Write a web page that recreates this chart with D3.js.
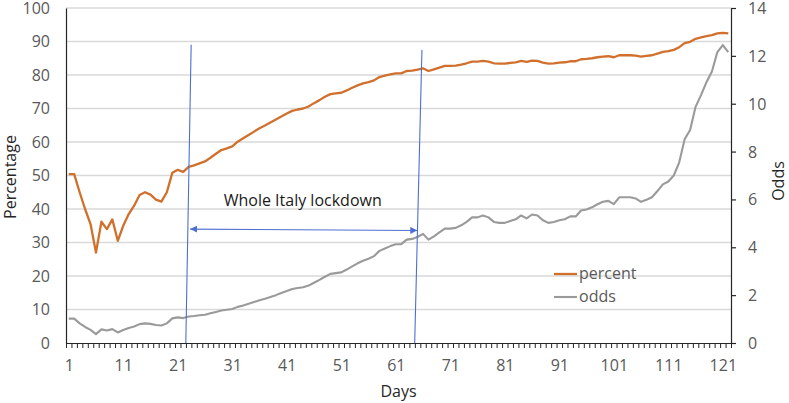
<!DOCTYPE html>
<html>
<head>
<meta charset="utf-8">
<script src="https://cdn.jsdelivr.net/npm/d3@7"></script>
<style>
  html, body { margin: 0; padding: 0; background: #fff; }
  svg { display: block; font-family: "Open Sans", "Noto Sans", sans-serif; }
</style>
</head>
<body>
<svg id="chart" width="789" height="403"></svg>
<script>
// ---------------- data ----------------
const days = d3.range(1, 123);
const percent = [
  50.4, 50.4, 45.0, 40.0, 35.5, 27.0, 36.2, 34.0, 36.9, 30.5,
  35.0, 38.5, 41.0, 44.2, 45.0, 44.3, 42.8, 42.2, 45.0, 50.8,
  51.7, 51.1, 52.6, 53.0, 53.6, 54.2, 55.3, 56.5, 57.6, 58.1,
  58.7, 60.1, 61.1, 62.1, 63.1, 64.1, 64.9, 65.8, 66.7, 67.6,
  68.5, 69.3, 69.7, 70.0, 70.6, 71.6, 72.5, 73.5, 74.3, 74.5,
  74.7, 75.4, 76.2, 76.9, 77.5, 77.9, 78.4, 79.4, 79.8, 80.2,
  80.5, 80.5, 81.2, 81.3, 81.6, 82.0, 81.2, 81.7, 82.2, 82.7,
  82.7, 82.8, 83.1, 83.5, 84.0, 84.0, 84.2, 84.0, 83.5, 83.4,
  83.4, 83.6, 83.8, 84.2, 83.9, 84.3, 84.2, 83.7, 83.4, 83.5,
  83.7, 83.8, 84.1, 84.1, 84.7, 84.8, 85.0, 85.3, 85.5, 85.6,
  85.3, 85.9, 85.9, 85.9, 85.8, 85.5, 85.7, 85.9, 86.4, 86.9,
  87.1, 87.5, 88.3, 89.5, 89.9, 90.8, 91.2, 91.6, 91.9, 92.4,
  92.6, 92.4
];
const odds = [
  1.02, 1.02, 0.82, 0.67, 0.55, 0.37, 0.57, 0.52, 0.58, 0.44,
  0.54, 0.63, 0.69, 0.79, 0.82, 0.80, 0.75, 0.73, 0.82, 1.03,
  1.07, 1.04, 1.11, 1.13, 1.16, 1.18, 1.24, 1.30, 1.36, 1.39,
  1.42, 1.51, 1.57, 1.64, 1.71, 1.79, 1.85, 1.92, 2.00, 2.09,
  2.17, 2.26, 2.30, 2.33, 2.40, 2.52, 2.64, 2.77, 2.89, 2.92,
  2.95, 3.07, 3.20, 3.33, 3.44, 3.52, 3.63, 3.85, 3.95, 4.05,
  4.13, 4.13, 4.32, 4.35, 4.43, 4.56, 4.32, 4.46, 4.62, 4.78,
  4.78, 4.81, 4.92, 5.06, 5.25, 5.25, 5.33, 5.25, 5.06, 5.02,
  5.02, 5.10, 5.17, 5.33, 5.21, 5.37, 5.33, 5.13, 5.02, 5.06,
  5.13, 5.17, 5.29, 5.29, 5.54, 5.58, 5.67, 5.80, 5.90, 5.94,
  5.80, 6.09, 6.09, 6.09, 6.04, 5.90, 5.99, 6.09, 6.35, 6.63,
  6.75, 7.00, 7.55, 8.52, 8.90, 9.87, 10.36, 10.90, 11.35, 12.16,
  12.45, 12.16
];
const xTickLabels = [1, 11, 21, 31, 41, 51, 61, 71, 81, 91, 101, 111, 121];
const leftTicks = [0, 10, 20, 30, 40, 50, 60, 70, 80, 90, 100];
const rightTicks = [0, 2, 4, 6, 8, 10, 12, 14];
const seriesNames = ["percent", "odds"];
const annotationText = "Whole Italy lockdown";
// lockdown markers in data units: [day, percent] endpoints
const lockStartLine = [[23.46, 89.0], [22.48, 0]];
const lockEndLine = [[65.8, 87.5], [64.47, 0]];
const lockArrow = [[23.27, 34.0], [64.95, 33.6]];

// ---------------- layout ----------------
const m = { left: 66, right: 731, top: 8, bottom: 343 };
const colors = { percent: "#D0702C", odds: "#9A9A9A", blue: "#4F6FD0" };
const FS = "16px";

const svg = d3.select("#chart");

const x = d3.scaleLinear().domain([0.5, 122.5]).range([m.left, m.right]);
const yL = d3.scaleLinear().domain([0, 100]).range([m.bottom, m.top]);
const yR = d3.scaleLinear().domain([0, 14]).range([m.bottom, m.top]);

// gridlines
svg.append("g")
  .selectAll("line")
  .data(leftTicks.filter(d => d > 0))
  .join("line")
  .attr("x1", m.left).attr("x2", m.right)
  .attr("y1", d => yL(d)).attr("y2", d => yL(d))
  .attr("stroke", "#d9d9d9").attr("stroke-width", 1.3);

// lines
const linePct = d3.line().x((d, i) => x(days[i])).y(d => yL(d));
const lineOdds = d3.line().x((d, i) => x(days[i])).y(d => yR(d));

svg.append("path").datum(odds)
  .attr("d", lineOdds).attr("fill", "none")
  .attr("stroke", colors.odds).attr("stroke-width", 2.1)
  .attr("stroke-linejoin", "round");
svg.append("path").datum(percent)
  .attr("d", linePct).attr("fill", "none")
  .attr("stroke", colors.percent).attr("stroke-width", 2.3)
  .attr("stroke-linejoin", "round");

// axes
const tickColor = "#595959";
const axisColor = "#262626";

// left axis
const gL = svg.append("g").attr("transform", `translate(${m.left},0)`)
  .call(d3.axisLeft(yL).tickValues(leftTicks).tickSize(0).tickPadding(16));
gL.select(".domain").attr("stroke", axisColor).attr("stroke-width", 1.2);
gL.selectAll("text").attr("fill", tickColor).attr("dy", "0.34em").style("font-size", FS).style("font-family", "Open Sans");

// right axis
const gR = svg.append("g").attr("transform", `translate(${m.right},0)`)
  .call(d3.axisRight(yR).tickValues(rightTicks).tickSize(5).tickSizeOuter(0).tickPadding(12));
gR.select(".domain").attr("stroke", axisColor).attr("stroke-width", 1.2);
gR.selectAll("line").attr("stroke", axisColor).attr("stroke-width", 1.2);
gR.selectAll("text").attr("fill", tickColor).attr("dy", "0.34em").style("font-size", FS).style("font-family", "Open Sans");

// bottom axis: minor ticks between categories
const boundaries = d3.range(0, 123).map(d => d + 0.5);
const gB = svg.append("g").attr("transform", `translate(0,${m.bottom})`)
  .call(d3.axisBottom(x).tickValues(boundaries).tickSize(5).tickSizeOuter(0).tickFormat(""));
gB.select(".domain").attr("stroke", axisColor).attr("stroke-width", 1.2);
gB.selectAll(".tick line").attr("stroke", axisColor).attr("stroke-width", 1);

const gBL = svg.append("g").attr("transform", `translate(0,${m.bottom})`)
  .call(d3.axisBottom(x).tickValues(xTickLabels).tickSize(0).tickPadding(17).tickFormat(d3.format("d")));
gBL.select(".domain").remove();
gBL.selectAll("text").attr("fill", tickColor).style("font-size", FS).style("font-family", "Open Sans");

// axis titles
svg.append("text")
  .attr("transform", `translate(16,177) rotate(-90)`)
  .attr("text-anchor", "middle")
  .attr("fill", axisColor).style("font-size", FS)
  .text("Percentage");
svg.append("text")
  .attr("transform", `translate(784,181) rotate(-90)`)
  .attr("text-anchor", "middle")
  .attr("fill", axisColor).style("font-size", FS)
  .text("Odds");
svg.append("text")
  .attr("x", (m.left + m.right) / 2).attr("y", 397)
  .attr("text-anchor", "middle")
  .attr("fill", axisColor).style("font-size", FS)
  .text("Days");

// lockdown annotation
const defs = svg.append("defs");
defs.append("marker").attr("id", "arr")
  .attr("viewBox", "0 0 10 10").attr("refX", 10).attr("refY", 5)
  .attr("markerWidth", 7).attr("markerHeight", 7)
  .attr("markerUnits", "userSpaceOnUse")
  .attr("orient", "auto-start-reverse")
  .append("path").attr("d", "M0,0 L10,5 L0,10 Z").attr("fill", colors.blue);

const ann = svg.append("g");
[lockStartLine, lockEndLine].forEach(seg => {
  ann.append("line")
    .attr("x1", x(seg[0][0])).attr("y1", yL(seg[0][1]))
    .attr("x2", x(seg[1][0])).attr("y2", yL(seg[1][1]))
    .attr("stroke", colors.blue).attr("stroke-width", 1.1);
});
ann.append("line")
  .attr("x1", x(lockArrow[0][0])).attr("y1", yL(lockArrow[0][1]))
  .attr("x2", x(lockArrow[1][0])).attr("y2", yL(lockArrow[1][1]))
  .attr("stroke", colors.blue).attr("stroke-width", 1.1)
  .attr("marker-start", "url(#arr)").attr("marker-end", "url(#arr)");
ann.append("text")
  .attr("x", x((lockArrow[0][0] + lockArrow[1][0]) / 2) - 1)
  .attr("y", yL(41.0))
  .attr("text-anchor", "middle")
  .attr("fill", "#1a1a1a").style("font-size", FS)
  .text(annotationText);

// legend
const legend = svg.append("g").attr("transform", "translate(554,274)");
seriesNames.forEach((name, i) => {
  const g = legend.append("g").attr("transform", `translate(0,${i * 23})`);
  g.append("line").attr("x1", 0).attr("x2", 23).attr("y1", 0).attr("y2", 0)
    .attr("stroke", colors[name]).attr("stroke-width", name === "percent" ? 2.3 : 2.1);
  g.append("text").attr("x", 25).attr("y", 0).attr("dy", "0.32em")
    .attr("fill", tickColor).style("font-size", FS)
    .text(name);
});
</script>
</body>
</html>
